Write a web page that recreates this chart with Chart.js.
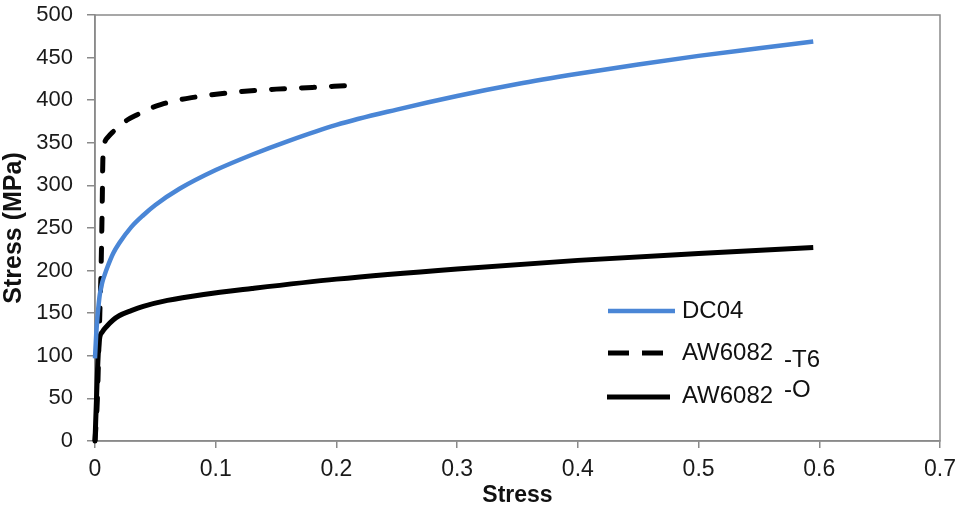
<!DOCTYPE html>
<html>
<head>
<meta charset="utf-8">
<script src="https://cdn.jsdelivr.net/npm/chart.js@4/dist/chart.umd.min.js"></script>
<style>
  html, body { margin: 0; padding: 0; background: #ffffff; }
  #wrap { width: 957px; height: 507px; }
</style>
</head>
<body>
<div id="wrap"><canvas id="c" width="957" height="507"></canvas></div>
<script>
// ---- data ----
const dc04Strain = [0, 0.001, 0.002, 0.003, 0.004, 0.006, 0.008, 0.01, 0.015, 0.02, 0.03, 0.04, 0.05, 0.07, 0.1, 0.13, 0.16, 0.2, 0.25, 0.3, 0.35, 0.4, 0.45, 0.5, 0.55, 0.595];
const dc04Stress = [97, 125, 145, 160, 172, 186, 195, 203, 220, 232, 251, 265, 277, 296, 318, 336, 352, 371, 389, 405, 419, 431, 442, 452, 461, 469];

const t6Strain = [0, 0.002, 0.003, 0.004, 0.005, 0.006, 0.0065, 0.008, 0.011, 0.015, 0.02, 0.027, 0.035, 0.045, 0.055, 0.065, 0.08, 0.095, 0.12, 0.15, 0.18, 0.207];
const t6Stress = [0, 50, 100, 150, 200, 280, 330, 350, 357, 363, 369, 377, 383, 390, 395, 399, 403, 406, 410, 413, 415, 417];

const oStrain = [0, 0.001, 0.002, 0.003, 0.004, 0.006, 0.01, 0.015, 0.02, 0.03, 0.04, 0.06, 0.09, 0.13, 0.2, 0.3, 0.4, 0.5, 0.595];
const oStress = [0, 40, 80, 110, 122, 128, 135, 142, 147, 153, 158, 165, 172, 179, 190, 202, 212, 220, 227];

const seriesNames = ['DC04', 'AW6082', 'AW6082'];
const seriesSuffix = ['', '-T6', '-O'];

const xTicks = [0, 0.1, 0.2, 0.3, 0.4, 0.5, 0.6, 0.7];
const yTicks = [0, 50, 100, 150, 200, 250, 300, 350, 400, 450, 500];
const xTitle = 'Stress';
const yTitle = 'Stress (MPa)';

// ---- build ----
function pts(xs, ys) { return xs.map((x, i) => ({ x: x, y: ys[i] })); }

const FONT = "'Liberation Sans', Arial, sans-serif";
const BLUE = '#4a86d6';
const AXIS = '#8a8a8a';

const frame = {
  id: 'frame',
  beforeDatasetsDraw(chart) {
    const a = chart.chartArea, ctx = chart.ctx;
    ctx.save();
    ctx.strokeStyle = AXIS;
    ctx.lineWidth = 1.5;
    ctx.strokeRect(a.left, a.top, a.right - a.left, a.bottom - a.top);
    ctx.restore();
  }
};

const legendPlugin = {
  id: 'customLegend',
  afterDraw(chart) {
    const ctx = chart.ctx;
    const rows = [
      { y: 311, x0: 608, x1: 675, dash: [], w: 4.5, c: BLUE, ty: 311, sy: 311 },
      { y: 353, x0: 608, x1: 664, dash: [21, 13], w: 5, c: '#000', ty: 353, sy: 360 },
      { y: 397, x0: 607, x1: 670, dash: [], w: 5, c: '#000', ty: 396, sy: 390 }
    ];
    ctx.save();
    rows.forEach((r, i) => {
      ctx.beginPath();
      ctx.setLineDash(r.dash);
      ctx.strokeStyle = r.c;
      ctx.lineWidth = r.w;
      ctx.moveTo(r.x0, r.y);
      ctx.lineTo(r.x1, r.y);
      ctx.stroke();
      ctx.setLineDash([]);
      ctx.fillStyle = '#111';
      ctx.font = '24px ' + FONT;
      ctx.textBaseline = 'middle';
      ctx.textAlign = 'left';
      ctx.fillText(seriesNames[i], 682, r.ty);
      if (seriesSuffix[i]) {
        ctx.fillText(seriesSuffix[i], 784, r.sy);
      }
    });
    ctx.restore();
  }
};

new Chart(document.getElementById('c'), {
  type: 'scatter',
  data: {
    datasets: [
      { label: seriesNames[0], data: pts(dc04Strain, dc04Stress), showLine: true, borderColor: BLUE, borderWidth: 4.5, pointRadius: 0, cubicInterpolationMode: 'monotone', clip: false },
      { label: seriesNames[1] + seriesSuffix[1], data: pts(t6Strain, t6Stress), showLine: true, borderColor: '#000', borderWidth: 5, borderDash: [13, 17], borderCapStyle: 'round', pointRadius: 0, cubicInterpolationMode: 'monotone', clip: false },
      { label: seriesNames[2] + seriesSuffix[2], data: pts(oStrain, oStress), showLine: true, borderColor: '#000', borderWidth: 5, pointRadius: 0, cubicInterpolationMode: 'monotone', clip: false }
    ]
  },
  options: {
    responsive: false,
    animation: false,
    devicePixelRatio: 1,
    layout: { padding: { top: 15, right: 17, left: 0, bottom: 0 } },
    plugins: { legend: { display: false }, tooltip: { enabled: false } },
    scales: {
      x: {
        type: 'linear', min: 0, max: 0.7,
        afterBuildTicks(s) { s.ticks = xTicks.map(v => ({ value: v })); },
        afterFit(s) { s.height = 66; s.paddingLeft = 0; s.paddingRight = 0; },
        ticks: { color: '#1a1a1a', font: { family: FONT, size: 23 }, padding: 8, maxRotation: 0, callback: v => String(v) },
        grid: { display: true, drawOnChartArea: false, drawTicks: true, tickLength: 7, color: AXIS, lineWidth: 1.5 },
        border: { display: true, color: AXIS, width: 1.5 },
        title: { display: true, text: xTitle, color: '#111', font: { family: FONT, size: 23, weight: 'bold', lineHeight: 1 }, padding: { top: 0, bottom: 0 } }
      },
      y: {
        type: 'linear', min: 0, max: 500,
        afterBuildTicks(s) { s.ticks = yTicks.map(v => ({ value: v })); },
        afterFit(s) { s.width = 95; s.paddingTop = 0; s.paddingBottom = 0; },
        ticks: { color: '#1a1a1a', font: { family: FONT, size: 22 }, padding: 14 },
        grid: { display: true, drawOnChartArea: false, drawTicks: true, tickLength: 8, color: AXIS, lineWidth: 1.5 },
        border: { display: true, color: AXIS, width: 1.5 },
        title: { display: true, text: yTitle, color: '#111', font: { family: FONT, size: 25, weight: 'bold', lineHeight: 1.1 }, padding: { top: 0, bottom: 0 } }
      }
    }
  },
  plugins: [frame, legendPlugin]
});
</script>
</body>
</html>
